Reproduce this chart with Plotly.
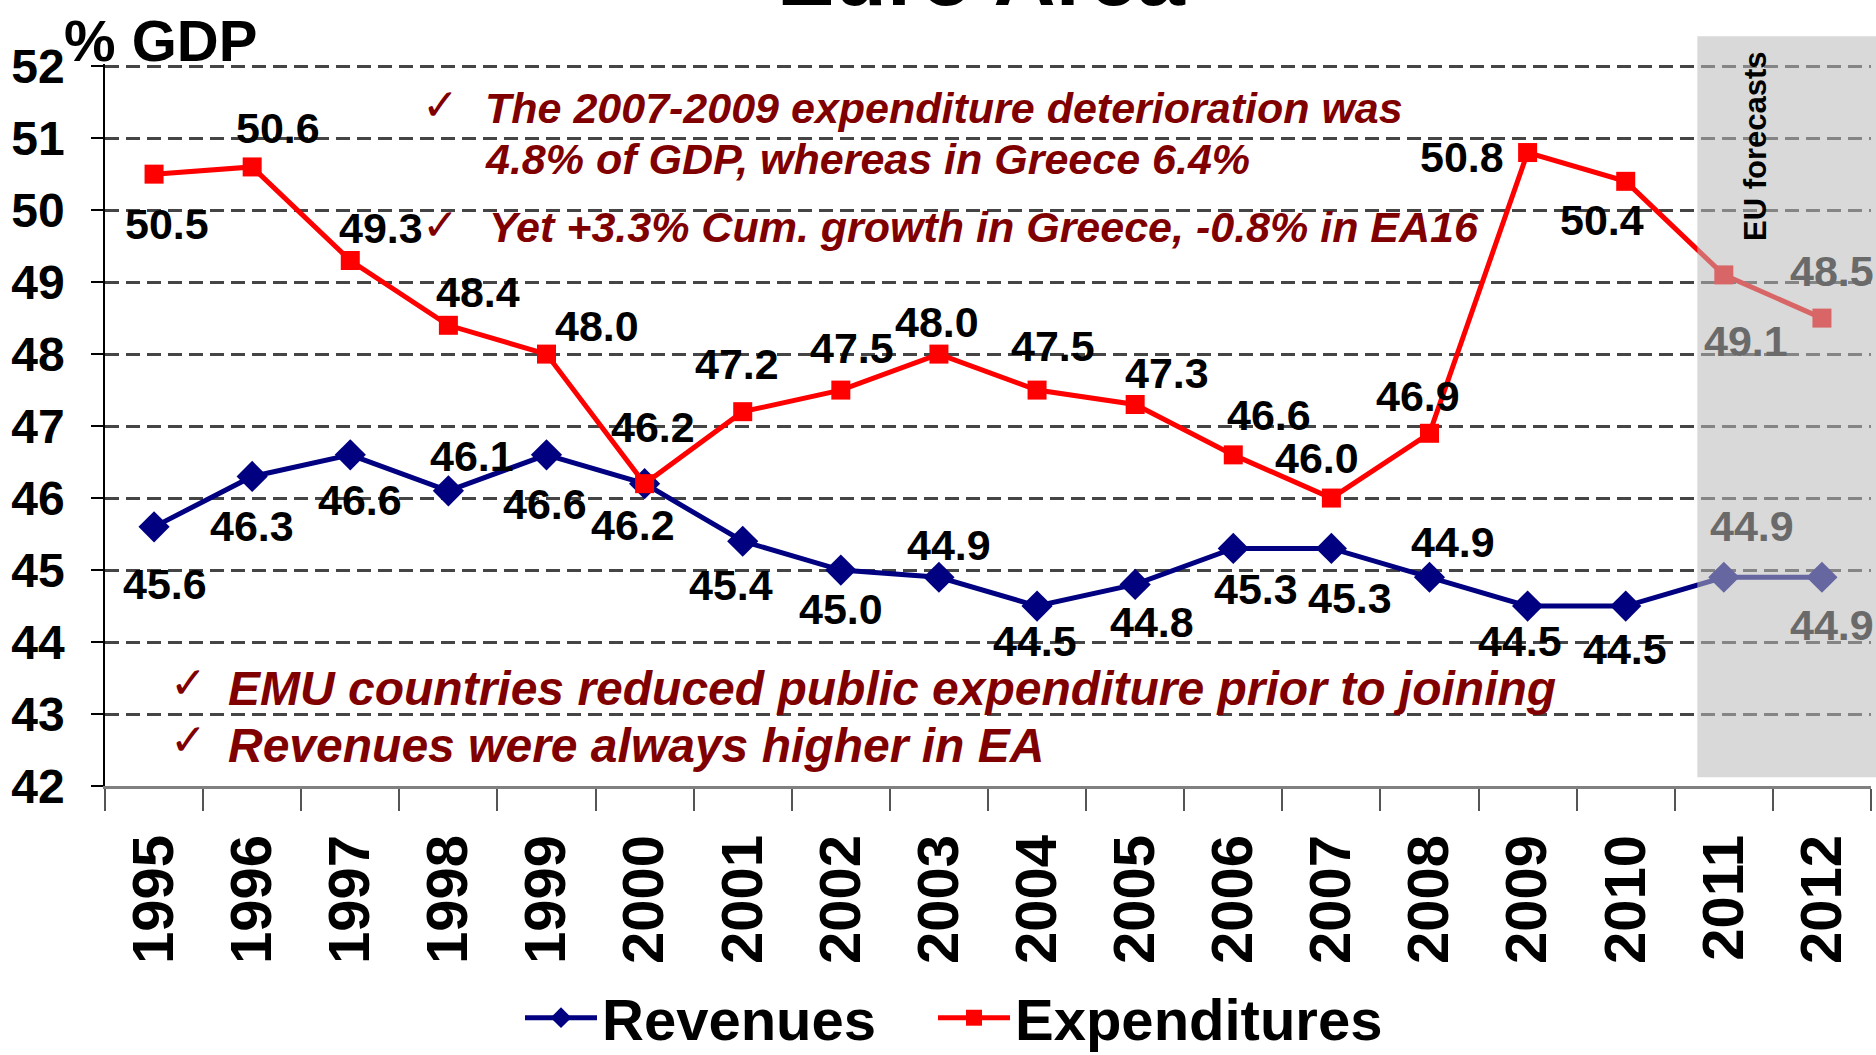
import plotly.graph_objects as go

# ---------------- data ----------------
years = ["1995", "1996", "1997", "1998", "1999", "2000", "2001", "2002", "2003",
         "2004", "2005", "2006", "2007", "2008", "2009", "2010", "2011", "2012"]
revenues = [45.6, 46.3, 46.6, 46.1, 46.6, 46.2, 45.4, 45.0, 44.9,
            44.5, 44.8, 45.3, 45.3, 44.9, 44.5, 44.5, 44.9, 44.9]
expenditures = [50.5, 50.6, 49.3, 48.4, 48.0, 46.2, 47.2, 47.5, 48.0,
                47.5, 47.3, 46.6, 46.0, 46.9, 50.8, 50.4, 49.1, 48.5]
y_ticks = [42, 43, 44, 45, 46, 47, 48, 49, 50, 51, 52]
forecast_years = ["2011", "2012"]

# ---------------- style ----------------
W, H = 1876, 1055
L, R, T, B = 105, 1871, 64, 786
Y0, Y1 = 42, 52.03
NARROW = "Liberation Sans Narrow, Arial Narrow, Liberation Sans, Arial, sans-serif"
BOLD = "Liberation Sans, Arial, sans-serif"
DARKRED = "#800000"
NAVY = "#000080"
RED = "#FF0000"

# label offsets (pixels: dx right, dy up)
rev_off = [(11, -57), (0, -50), (10, -45), (24, 35), (-2, -49), (-12, -41), (-12, -44),
           (0, -39), (10, 32), (-2, -35), (17, -38), (23, -41), (19, -50), (23, 35),
           (-8, -35), (-1, -43), (28, 51), (10, -48)]
exp_off = [(13, -50), (26, 39), (31, 33), (30, 33), (50, 28), (8, 57), (-6, 48),
           (11, 42), (-2, 32), (16, 44), (32, 31), (36, 40), (-14, 40), (-12, 37),
           (-66, -4), (-24, -39), (22, -66), (10, 47)]


def px(x):
    return (x - L) / (R - L)


def py(y):
    return (B - y) / (B - T)


fig = go.Figure()
fig.add_trace(go.Scatter(
    x=years, y=revenues, name="Revenues", mode="lines+markers",
    line=dict(color=NAVY, width=5),
    marker=dict(symbol="diamond", size=24, color=NAVY),
    legend="legend",
))
fig.add_trace(go.Scatter(
    x=years, y=expenditures, name="Expenditures", mode="lines+markers",
    line=dict(color=RED, width=5),
    marker=dict(symbol="square", size=19, color=RED),
    legend="legend2",
))

annotations = []
for series, offs in ((revenues, rev_off), (expenditures, exp_off)):
    for i, (yr, v, (dx, dy)) in enumerate(zip(years, series, offs)):
        annotations.append(dict(
            x=i, y=v, xref="x", yref="y", text=f"{v:.1f}", showarrow=False,
            xanchor="center", yanchor="middle", xshift=dx, yshift=dy, borderpad=0,
            font=dict(family=NARROW, size=43,
                      color="#6a6a6a" if yr in forecast_years else "black",
                      weight="bold"),
        ))

# shaded forecast area (from the 2010/2011 boundary region to the right edge)
n = len(years)
fx0 = (15.73 + 0.5) / n
fig.add_shape(type="rect", xref="paper", yref="paper",
              x0=fx0, x1=1.004, y0=(42.12 - Y0) / (Y1 - Y0), y1=(52.415 - Y0) / (Y1 - Y0),
              fillcolor="rgba(185,185,185,0.55)", line=dict(width=0), layer="above")

annotations.append(dict(
    xref="paper", yref="paper", x=px(1755), y=py(146), text="EU forecasts",
    textangle=-90, showarrow=False, xanchor="center", yanchor="middle",
    font=dict(family=BOLD, size=31, color="black", weight="bold")))

# axis title
annotations.append(dict(
    xref="paper", yref="paper", x=px(62), y=py(40), xanchor="left", yanchor="middle",
    text="% GDP", showarrow=False,
    font=dict(family=NARROW, size=58, color="black", weight="bold")))

# chart title (partly outside the page, as in the original)
annotations.append(dict(
    xref="paper", yref="paper", x=px(981), y=py(-25), xanchor="center", yanchor="middle",
    text="Euro Area", showarrow=False,
    font=dict(family=BOLD, size=86, color="black", weight="bold")))

# commentary
notes = [
    (440, 104, 484, 108, "The 2007-2009 expenditure deterioration was", True, 43),
    (None, None, 484, 159, "4.8% of GDP, whereas in Greece 6.4%", False, 43),
    (440, 224, 488, 227, "Yet +3.3% Cum. growth in Greece, -0.8% in EA16", True, 43),
    (188, 682, 227, 688, "EMU countries reduced public expenditure prior to joining", True, 48),
    (188, 739, 227, 745, "Revenues were always higher in EA", True, 48),
]
for cx, cy, tx, ty, txt, check, fs in notes:
    if check:
        annotations.append(dict(
            xref="paper", yref="paper", x=px(cx), y=py(cy), xanchor="center", yanchor="middle",
            text="✓", showarrow=False, borderpad=0,
            font=dict(family="DejaVu Sans", size=44, color=DARKRED)))
    annotations.append(dict(
        xref="paper", yref="paper", x=px(tx), y=py(ty), xanchor="left", yanchor="middle",
        text=txt, showarrow=False, borderpad=0,
        font=dict(family=NARROW, size=fs, color=DARKRED, weight="bold", style="italic")))

legend_style = dict(orientation="h", xanchor="left", y=py(1018), yanchor="middle",
                    font=dict(family=NARROW, size=58, color="black", weight="bold"),
                    itemwidth=72, bgcolor="rgba(0,0,0,0)")

fig.update_layout(
    width=W, height=H,
    margin=dict(l=L, r=W - R, t=T, b=H - B, autoexpand=False),
    paper_bgcolor="white", plot_bgcolor="white",
    annotations=annotations,
    showlegend=True,
    legend=dict(x=px(520), **legend_style),
    legend2=dict(x=px(933), **legend_style),
    xaxis=dict(
        type="category", range=[-0.5, n - 0.5], tickson="boundaries", automargin=False,
        ticks="outside", ticklen=22, tickwidth=1.5, tickcolor="#555",
        showline=True, linecolor="#808080", linewidth=2.5,
        showgrid=False, tickangle=-90, ticklabelstandoff=23,
        tickfont=dict(family=BOLD, size=58, color="black", weight="bold"),
    ),
    yaxis=dict(
        range=[Y0, Y1], tickvals=y_ticks, ticks="outside", ticklen=12, automargin=False,
        tickcolor="black", tickwidth=1.5,
        showline=True, linecolor="black", linewidth=1.5,
        showgrid=True, gridcolor="#454545", gridwidth=3, griddash="14px,7px",
        zeroline=False, ticklabelstandoff=17,
        tickfont=dict(family=NARROW, size=48, color="black", weight="bold"),
    ),
)

fig.write_html("out.html", config={"displayModeBar": False},
               post_script="document.body.style.margin='0';document.body.style.overflow='hidden';")
